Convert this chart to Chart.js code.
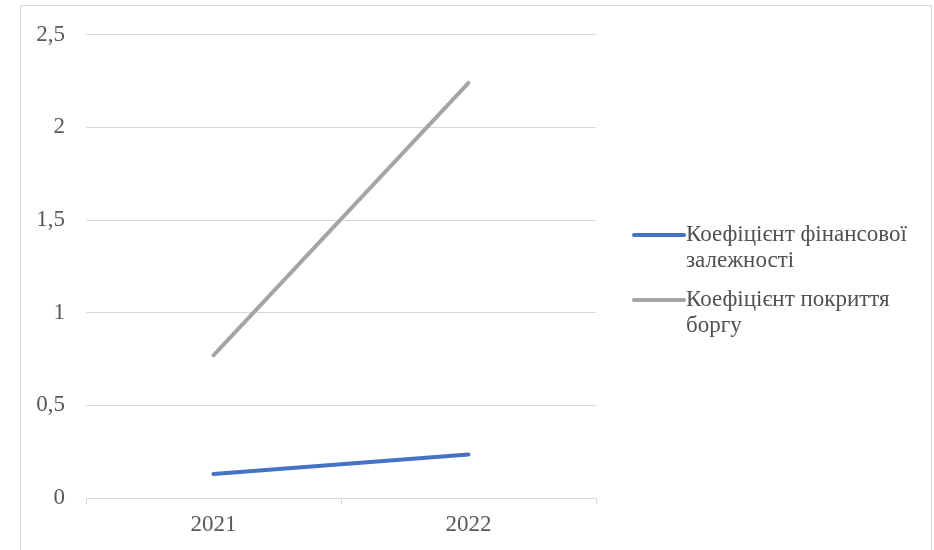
<head>
  <script src="https://cdn.jsdelivr.net/npm/chart.js@4.4.1/dist/chart.umd.min.js"></script>
  <style>
    html, body {
      margin: 0;
      padding: 0;
      background: #fff;
      font-family: 'Liberation Serif', 'Times New Roman', serif;
    }

    .wrap {
      position: relative;
      width: 934px;
      height: 550px;
      overflow: hidden;
    }

    .frame {
      position: absolute;
      left: 20px;
      top: 5px;
      width: 910px;
      height: 560px;
      border: 1px solid #d9d9d9;
      border-bottom: none;
      pointer-events: none;
    }

    #legend {
      position: absolute;
      left: 632px;
      top: 221px;
    }

    .item {
      display: flex;
      flex-direction: row;
      align-items: flex-start;
      margin-bottom: 13px;
    }

    .swatch {
      width: 54px;
      height: 4px;
      border-radius: 2px;
      margin-top: 12px;
    }

    .label {
      width: 240px;
      font-size: 23px;
      line-height: 26px;
      color: #505050;
    }
  </style>
</head>

<div class="wrap">
  <canvas id="chart" width="934" height="550"></canvas>
  <div class="frame"></div>
  <div id="legend"></div>
</div>

<script>
  const years = ['2021', '2022'];
  const seriesNames = ['Коефіцієнт фінансової залежності', 'Коефіцієнт покриття боргу'];
  const dependence = [0.13, 0.235];
  const debtCoverage = [0.77, 2.24];
  const colors = ['#4472C4', '#A5A5A5'];

  const gridColor = '#d9d9d9';
  const textColor = '#595959';
  const font = { family: "'Liberation Serif', 'Times New Roman', serif", size: 23 };

  const chart = new Chart(document.getElementById('chart'), {
    type: 'line',
    data: {
      labels: years,
      datasets: [dependence, debtCoverage].map((data, i) => ({
        label: seriesNames[i],
        data: data,
        borderColor: colors[i],
        backgroundColor: colors[i],
        borderWidth: 4,
        borderCapStyle: 'round',
        pointRadius: 0,
        tension: 0
      }))
    },
    options: {
      responsive: false,
      animation: false,
      devicePixelRatio: 1,
      layout: {
        padding: { left: 20, right: 338, top: 33, bottom: 0 }
      },
      plugins: {
        legend: { display: false },
        tooltip: { enabled: false }
      },
      scales: {
        x: {
          offset: true,
          grid: {
            offset: true,
            drawOnChartArea: false,
            drawTicks: true,
            tickLength: 6,
            color: gridColor
          },
          border: { display: true, color: gridColor },
          ticks: { color: textColor, font: font, padding: 7 },
          afterFit(s) { s.height = 52; }
        },
        y: {
          min: 0,
          max: 2.5,
          grid: { color: gridColor, drawTicks: false },
          border: { display: false },
          ticks: {
            stepSize: 0.5,
            color: textColor,
            font: font,
            padding: 21,
            callback(value) {
              return String(value).replace('.', ',');
            }
          },
          afterFit(s) { s.width = 66; }
        }
      }
    }
  });

  // html legend so the long names can wrap like in the original
  const legendEl = document.getElementById('legend');
  chart.data.datasets.forEach(ds => {
    const item = document.createElement('div');
    item.className = 'item';
    const swatch = document.createElement('div');
    swatch.className = 'swatch';
    swatch.style.background = ds.borderColor;
    const label = document.createElement('div');
    label.className = 'label';
    label.textContent = ds.label;
    item.appendChild(swatch);
    item.appendChild(label);
    legendEl.appendChild(item);
  });
</script>
